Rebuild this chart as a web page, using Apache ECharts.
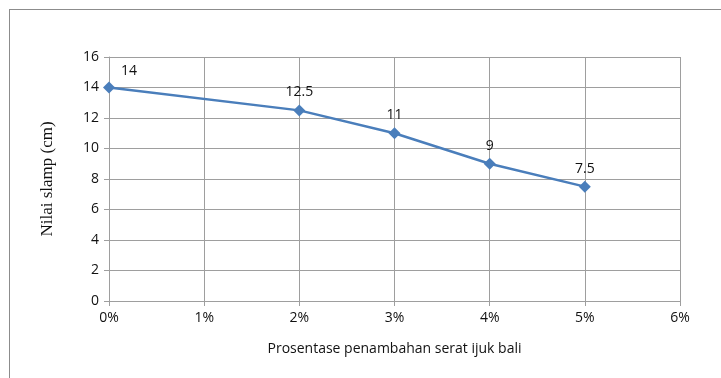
<!DOCTYPE html>
<html>
<head>
<meta charset="utf-8">
<script src="https://cdn.jsdelivr.net/npm/echarts@6/dist/echarts.min.js"></script>
<style>
  html, body { margin: 0; padding: 0; background: #fff; }
  #frame { position: absolute; left: 9px; top: 9px; width: 730px; height: 400px; border: 1px solid #8c8c8c; box-sizing: border-box; }
  #chart { position: absolute; left: 0; top: 0; width: 721px; height: 378px; }
</style>
</head>
<body>
<div id="frame"></div>
<div id="chart"></div>
<script>
// Fibre content (%) and slump value (cm)
const fibrePercent = [0, 2, 3, 4, 5];
const slumpValues = [14, 12.5, 11, 9, 7.5];
const xTicks = [0, 1, 2, 3, 4, 5, 6];
const yTicks = [0, 2, 4, 6, 8, 10, 12, 14, 16];

const labelFont = '"Open Sans", "Noto Sans", sans-serif';
const gridColor = '#9e9e9e';
const textColor = '#111';

const chart = echarts.init(document.getElementById('chart'), null, { renderer: 'canvas' });

const points = fibrePercent.map((x, i) => ({
  value: [x, slumpValues[i]],
  label: i === 0 ? { offset: [20, 2] } : {}
}));

chart.setOption({
  animation: false,
  backgroundColor: 'transparent',
  grid: { left: 109, right: 41, top: 57, bottom: 77, containLabel: false },
  xAxis: {
    type: 'value',
    min: xTicks[0],
    max: xTicks[xTicks.length - 1],
    interval: 1,
    name: 'Prosentase penambahan serat ijuk bali',
    nameLocation: 'middle',
    nameGap: 41,
    nameTextStyle: { fontFamily: labelFont, fontSize: 14, color: textColor },
    axisLine: { lineStyle: { color: gridColor, width: 1 } },
    axisTick: { show: true, inside: false, length: 5, lineStyle: { color: gridColor } },
    axisLabel: {
      margin: 10,
      fontFamily: labelFont, fontSize: 14, color: textColor,
      formatter: v => v + '%'
    },
    splitLine: { show: true, lineStyle: { color: gridColor, width: 1 } }
  },
  yAxis: {
    type: 'value',
    min: yTicks[0],
    max: yTicks[yTicks.length - 1],
    interval: 2,
    name: 'Nilai slamp (cm)',
    nameLocation: 'middle',
    nameGap: 53,
    nameRotate: 90,
    nameTextStyle: { fontFamily: '"Liberation Serif", serif', fontSize: 17, color: textColor },
    axisLine: { show: true, lineStyle: { color: gridColor, width: 1 } },
    axisTick: { show: true, inside: false, length: 5, lineStyle: { color: gridColor } },
    axisLabel: { margin: 10, fontFamily: labelFont, fontSize: 14, color: textColor },
    splitLine: { show: true, lineStyle: { color: gridColor, width: 1 } }
  },
  series: [{
    type: 'line',
    data: points,
    symbol: 'diamond',
    symbolSize: 12,
    lineStyle: { color: '#4a7ebb', width: 2.5 },
    itemStyle: { color: '#4a7ebb' },
    label: {
      show: true,
      position: 'top',
      distance: 5,
      fontFamily: labelFont,
      fontSize: 14,
      color: textColor,
      formatter: p => String(p.value[1])
    }
  }]
});
</script>
</body>
</html>
